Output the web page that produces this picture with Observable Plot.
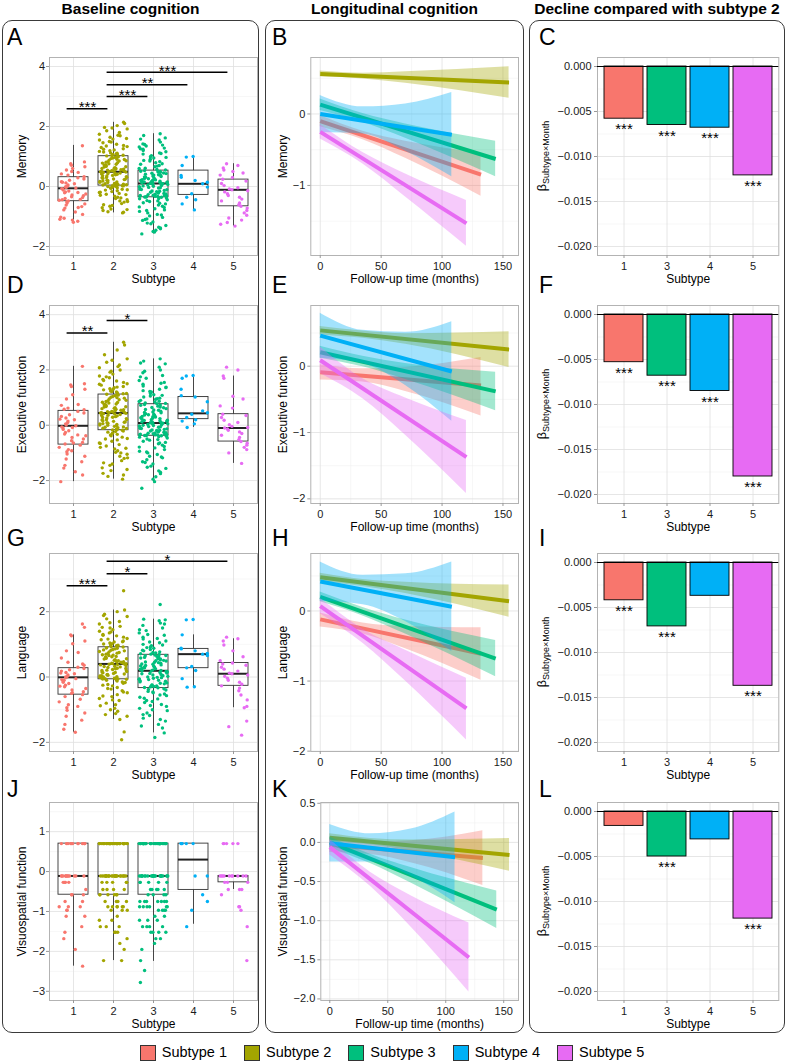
<!DOCTYPE html>
<html><head><meta charset="utf-8">
<script src="https://cdn.jsdelivr.net/npm/d3@7"></script>
<script src="https://cdn.jsdelivr.net/npm/@observablehq/plot@0.6"></script>
<style>
html,body{margin:0;padding:0;background:#fff}
#root{position:relative;width:789px;height:1064px;overflow:hidden;font-family:"Liberation Sans",Arial,Helvetica,sans-serif;color:#000}
.colbox{position:absolute;border:1.6px solid #3a3a3a;border-radius:10px;box-sizing:border-box}
.hdr{position:absolute;top:0;height:18px;line-height:18px;font-size:15.5px;font-weight:bold;text-align:center;white-space:nowrap}
.ltr{position:absolute;font-size:23px;line-height:23px}
.pnl{position:absolute}
.legend{position:absolute;left:0;width:784px;top:1044px;display:flex;justify-content:center;align-items:center;gap:17px;font-size:14.5px;line-height:17px}
.item{display:flex;align-items:center}
.sw{width:14px;height:14px;border:1px solid #333;margin-right:6px}
</style></head>
<body><div id="root"></div>
<script>
// ================= DATA =================
const subtypeNames = ["Subtype 1","Subtype 2","Subtype 3","Subtype 4","Subtype 5"];
const subtypeColors = ["#F8766D","#A3A500","#00BF7D","#00B0F6","#E76BF3"];
const domainLabels = ["Memory","Executive function","Language","Visuospatial function"];

// ---- Baseline cognition: box stats per subtype [lower whisker, Q1, median, Q3, upper whisker]
const memBox = [[-1.19,-0.49,-0.06,0.31,1.37],[-0.88,0.03,0.49,1.01,2.14],[-1.58,-0.36,0.10,0.53,1.76],[-0.80,-0.28,0.09,0.53,1.00],[-1.32,-0.66,-0.11,0.23,0.76]];
const exeBox = [[-2.04,-0.70,-0.02,0.52,2.13],[-1.95,-0.18,0.44,1.11,3.00],[-2.04,-0.38,0.08,0.76,2.40],[-0.08,0.22,0.43,1.02,1.80],[-1.38,-0.59,-0.10,0.40,1.78]];
const lanBox = [[-1.69,-0.54,-0.01,0.27,1.29],[-1.30,-0.07,0.40,0.91,2.05],[-1.71,-0.34,0.19,0.68,1.77],[-0.31,0.27,0.70,0.86,1.29],[-0.94,-0.27,0.10,0.43,1.17]];
const visBox = [[-2.37,-0.58,-0.11,0.70,0.70],[-2.23,-0.58,-0.11,0.70,0.70],[-2.25,-0.58,-0.11,0.70,0.70],[-1.32,-0.46,0.30,0.70,0.70],[-0.45,-0.27,-0.11,-0.11,-0.11]];

// ---- Baseline cognition: individual scores (jittered points)
const memPts1 = [1.36,0.82,0.76,0.71,0.66,0.60,0.55,0.47,0.42,0.38,0.33,0.29,0.25,0.21,0.16,0.12,0.09,0.05,0.02,-0.01,-0.03,-0.05,-0.07,-0.09,-0.12,-0.15,-0.18,-0.21,-0.25,-0.28,-0.31,-0.34,-0.37,-0.40,-0.43,-0.46,-0.48,-0.51,-0.55,-0.58,-0.62,-0.67,-0.72,-0.78,-0.85,-0.93,-1.02,-1.06,-1.09,-1.12,-1.16,-1.19,0.50,0.14,-0.20,-0.44,-0.70];
const memPts2 = [2.14,2.10,2.03,1.97,1.92,1.86,1.80,1.74,1.69,1.64,1.58,1.55,1.50,1.46,1.41,1.37,1.33,1.30,1.26,1.22,1.19,1.15,1.12,1.09,1.06,1.04,1.02,1.00,0.97,0.95,0.93,0.90,0.88,0.85,0.83,0.81,0.78,0.76,0.74,0.71,0.69,0.67,0.65,0.63,0.61,0.59,0.58,0.56,0.55,0.53,0.52,0.51,0.50,0.49,0.48,0.46,0.45,0.43,0.41,0.39,0.37,0.35,0.33,0.31,0.29,0.27,0.25,0.23,0.21,0.19,0.17,0.15,0.14,0.12,0.10,0.09,0.07,0.06,0.05,0.04,0.03,0.02,0.00,-0.02,-0.04,-0.06,-0.09,-0.11,-0.14,-0.17,-0.20,-0.23,-0.26,-0.29,-0.32,-0.36,-0.40,-0.44,-0.48,-0.52,-0.57,-0.61,-0.66,-0.71,-0.75,-0.80,-0.84,-0.88,
  1.95,1.71,1.48,1.35,1.24,1.17,1.11,1.07,1.03,1.60,0.99,0.91,0.86,0.79,0.72,0.66,0.60,0.57,0.54,0.50,0.47,0.42,0.36,0.30,0.24,0.18,0.13,0.08,0.05,0.03,0.01,-0.05,-0.12,-0.19,-0.27,-0.38,-0.50,-0.63,-0.77,-0.86];
const memPts3 = [1.76,1.70,1.62,1.55,1.48,1.42,1.38,1.35,1.32,1.28,1.24,1.20,1.16,1.12,1.08,1.03,0.99,0.95,0.91,0.87,0.83,0.79,0.74,0.70,0.66,0.61,0.57,0.53,0.51,0.49,0.47,0.45,0.43,0.41,0.39,0.37,0.35,0.33,0.31,0.29,0.27,0.25,0.23,0.22,0.20,0.19,0.17,0.16,0.15,0.14,0.13,0.12,0.11,0.10,0.09,0.07,0.05,0.03,0.01,-0.01,-0.03,-0.05,-0.07,-0.09,-0.11,-0.13,-0.15,-0.17,-0.19,-0.21,-0.23,-0.25,-0.27,-0.29,-0.30,-0.31,-0.32,-0.33,-0.34,-0.35,-0.36,-0.38,-0.41,-0.44,-0.47,-0.50,-0.54,-0.58,-0.62,-0.66,-0.70,-0.74,-0.78,-0.83,-0.88,-0.93,-0.98,-1.03,-1.08,-1.13,-1.18,-1.24,-1.30,-1.36,-1.41,-1.46,-1.52,-1.58,
  1.58,1.40,1.26,1.10,0.97,0.85,0.76,0.68,0.60,0.55,0.50,0.44,0.38,0.32,0.26,0.21,0.18,0.15,0.12,0.11,0.08,0.02,-0.04,-0.10,-0.16,-0.22,-0.26,-0.30,-0.33,-0.35,-0.40,-0.48,-0.56,-0.68,-0.80,-0.95,-1.10,-1.22,-1.38,-1.50];
const memPts4 = [1.00,0.98,0.70,0.37,0.31,0.20,0.14,0.09,-0.02,-0.24,-0.36,-0.44,-0.58,-0.78];
const memPts5 = [0.76,0.70,0.62,0.55,0.50,0.45,0.38,0.30,0.24,0.18,0.10,0.03,-0.04,-0.08,-0.11,-0.14,-0.18,-0.24,-0.30,-0.36,-0.42,-0.48,-0.55,-0.61,-0.66,-0.72,-0.80,-0.88,-0.96,-1.05,-1.12,-1.20,-1.26,-1.32];

const exePts1 = [2.13,1.50,1.46,1.40,1.30,1.10,0.95,0.75,0.72,0.62,0.56,0.50,0.44,0.38,0.32,0.26,0.20,0.15,0.10,0.05,0.01,-0.02,-0.06,-0.10,-0.15,-0.20,-0.26,-0.32,-0.38,-0.44,-0.50,-0.56,-0.62,-0.68,-0.72,-0.80,-0.88,-0.96,-1.04,-1.12,-1.22,-1.32,-1.45,-1.55,-1.68,-1.80,-2.04,0.58,0.22,-0.08,-0.35,-0.64,-0.92];
const exePts2 = [3.00,2.90,2.72,2.55,2.40,2.28,2.18,2.08,2.00,1.92,1.85,1.78,1.72,1.66,1.60,1.55,1.50,1.45,1.40,1.36,1.32,1.28,1.24,1.20,1.17,1.14,1.12,1.10,1.07,1.04,1.01,0.98,0.95,0.92,0.89,0.86,0.83,0.80,0.77,0.74,0.71,0.68,0.66,0.63,0.61,0.58,0.56,0.54,0.52,0.50,0.48,0.46,0.45,0.44,0.43,0.41,0.39,0.36,0.34,0.31,0.29,0.26,0.24,0.21,0.19,0.16,0.14,0.11,0.09,0.07,0.05,0.03,0.01,-0.02,-0.04,-0.07,-0.09,-0.12,-0.14,-0.16,-0.18,-0.21,-0.25,-0.29,-0.33,-0.38,-0.43,-0.48,-0.53,-0.58,-0.64,-0.70,-0.75,-0.80,-0.86,-0.92,-0.98,-1.05,-1.12,-1.20,-1.28,-1.36,-1.45,-1.54,-1.64,-1.74,-1.85,-1.95,
  2.35,2.12,1.95,1.75,1.62,1.48,1.38,1.30,1.22,1.15,1.09,1.00,0.90,0.82,0.75,0.67,0.60,0.53,0.49,0.45,0.42,0.35,0.28,0.20,0.12,0.06,0.00,-0.06,-0.11,-0.17,-0.23,-0.35,-0.50,-0.66,-0.83,-1.00,-1.18,-1.40,-1.60,-1.80];
const exePts3 = [2.40,2.32,2.22,2.10,2.00,1.90,1.80,1.70,1.62,1.55,1.48,1.42,1.36,1.30,1.25,1.20,1.15,1.10,1.06,1.02,0.98,0.94,0.90,0.87,0.84,0.81,0.78,0.75,0.72,0.69,0.66,0.63,0.60,0.57,0.54,0.51,0.48,0.45,0.42,0.40,0.37,0.35,0.32,0.30,0.27,0.25,0.22,0.20,0.18,0.16,0.14,0.12,0.10,0.08,0.07,0.05,0.03,0.01,-0.01,-0.03,-0.05,-0.07,-0.09,-0.11,-0.13,-0.15,-0.17,-0.19,-0.21,-0.23,-0.25,-0.27,-0.29,-0.31,-0.32,-0.33,-0.34,-0.35,-0.36,-0.37,-0.38,-0.40,-0.43,-0.46,-0.50,-0.54,-0.58,-0.62,-0.67,-0.72,-0.77,-0.82,-0.88,-0.94,-1.00,-1.06,-1.12,-1.18,-1.25,-1.32,-1.40,-1.48,-1.56,-1.65,-1.75,-1.86,-2.04,-2.28,
  2.25,1.95,1.75,1.52,1.38,1.22,1.08,0.96,0.86,0.79,0.73,0.64,0.55,0.46,0.38,0.31,0.24,0.17,0.11,0.09,0.06,0.00,-0.06,-0.12,-0.18,-0.24,-0.28,-0.32,-0.35,-0.37,-0.42,-0.52,-0.64,-0.79,-0.97,-1.15,-1.35,-1.52,-1.70,-1.95];
const exePts4 = [1.80,1.78,1.70,1.30,1.07,1.02,0.85,0.52,0.45,0.40,0.28,0.20,0.15,0.05,-0.08];
const exePts5 = [2.10,2.00,1.78,1.70,1.05,0.95,0.70,0.62,0.40,0.35,0.28,0.18,0.10,0.02,-0.04,-0.08,-0.10,-0.13,-0.18,-0.24,-0.30,-0.36,-0.44,-0.52,-0.59,-0.65,-0.72,-0.80,-0.88,-1.00,-1.38];

const lanPts1 = [1.62,1.52,1.29,1.26,1.10,1.02,0.80,0.75,0.58,0.45,0.36,0.30,0.26,0.22,0.18,0.14,0.10,0.06,0.03,0.00,-0.02,-0.05,-0.08,-0.12,-0.16,-0.20,-0.25,-0.30,-0.35,-0.40,-0.45,-0.50,-0.54,-0.60,-0.68,-0.76,-0.85,-0.94,-1.02,-1.10,-1.20,-1.32,-1.45,-1.60,-1.69,0.40,0.12,-0.10,-0.28,-0.48,-0.90];
const lanPts2 = [2.64,2.05,2.00,1.92,1.85,1.78,1.70,1.62,1.55,1.50,1.45,1.40,1.35,1.30,1.26,1.22,1.18,1.14,1.10,1.07,1.04,1.01,0.98,0.96,0.94,0.92,0.90,0.88,0.86,0.84,0.82,0.80,0.77,0.75,0.72,0.70,0.68,0.66,0.63,0.61,0.59,0.57,0.55,0.53,0.51,0.49,0.47,0.45,0.43,0.42,0.41,0.40,0.39,0.37,0.35,0.33,0.31,0.29,0.27,0.25,0.23,0.21,0.19,0.17,0.15,0.13,0.11,0.09,0.07,0.05,0.03,0.01,-0.01,-0.03,-0.04,-0.05,-0.06,-0.07,-0.09,-0.12,-0.15,-0.19,-0.23,-0.27,-0.32,-0.37,-0.42,-0.48,-0.54,-0.60,-0.66,-0.72,-0.80,-0.88,-0.96,-1.05,-1.12,-1.20,-1.30,-1.68,-1.92,
  1.88,1.66,1.52,1.38,1.28,1.16,1.08,1.02,0.97,0.93,0.89,0.83,0.78,0.73,0.67,0.62,0.56,0.50,0.46,0.41,0.38,0.32,0.26,0.20,0.14,0.08,0.04,0.00,-0.03,-0.06,-0.10,-0.17,-0.25,-0.35,-0.46,-0.58,-0.70,-0.85,-1.00,-1.15];
const lanPts3 = [2.22,1.77,1.75,1.72,1.65,1.58,1.50,1.42,1.35,1.28,1.22,1.16,1.10,1.05,1.00,0.96,0.92,0.88,0.84,0.80,0.77,0.74,0.71,0.69,0.67,0.65,0.63,0.60,0.58,0.56,0.53,0.51,0.49,0.46,0.44,0.42,0.39,0.37,0.35,0.33,0.31,0.29,0.27,0.25,0.23,0.21,0.20,0.18,0.16,0.14,0.12,0.10,0.08,0.06,0.04,0.02,0.00,-0.02,-0.04,-0.06,-0.08,-0.10,-0.12,-0.15,-0.18,-0.21,-0.24,-0.27,-0.30,-0.33,-0.36,-0.40,-0.44,-0.48,-0.52,-0.57,-0.62,-0.67,-0.72,-0.78,-0.84,-0.90,-0.96,-1.03,-1.10,-1.18,-1.26,-1.35,-1.45,-1.56,-1.71,-1.85,
  1.62,1.45,1.30,1.18,1.07,0.98,0.90,0.82,0.75,0.70,0.66,0.61,0.55,0.50,0.45,0.40,0.34,0.28,0.24,0.20,0.17,0.11,0.05,-0.01,-0.07,-0.13,-0.19,-0.25,-0.29,-0.32,-0.38,-0.46,-0.55,-0.65,-0.75,-0.87,-1.00,-1.15,-1.30,-1.50];
const lanPts4 = [1.76,1.75,1.29,0.88,0.86,0.80,0.72,0.70,0.66,0.32,0.28,0.20,-0.05,-0.30,-0.31];
const lanPts5 = [1.22,1.17,1.10,0.98,0.80,0.62,0.50,0.43,0.40,0.36,0.30,0.24,0.18,0.12,0.10,0.06,0.02,-0.04,-0.10,-0.16,-0.22,-0.27,-0.34,-0.42,-0.55,-0.70,-0.90,-0.94,-1.35,-1.52,-1.78];

// Visuospatial scores take discrete values: score levels and number of subjects at each level
const visLevels = [0.70,-0.11,-0.27,-0.45,-0.58,-0.75,-0.88,-0.97,-1.12,-1.22,-1.38,-1.52,-1.68,-1.80,-1.95,-2.23,-2.37,-2.48,-2.78];
const visCounts1 = [12,12,4,1,3,2,3,2,2,0,1,1,1,0,1,0,1,0,0];
const visCounts2 = [35,25,5,4,6,4,6,3,1,2,3,3,1,1,1,2,0,0,0];
const visCounts3 = [35,25,5,5,4,7,6,4,2,3,4,4,2,1,1,1,0,1,1];
const visCounts4 = [5,2,0,0,1,1,0,1,0,0,1,0,0,0,0,0,0,0,0];
const visCounts5 = [5,10,3,3,1,0,2,1,0,0,1,0,0,0,0,1,0,0,0];

// Pairwise significance: [subtype a, subtype b, bracket height, label]
const memSig = [[1,2,2.59,"***"],[2,3,3.00,"***"],[2,4,3.39,"**"],[2,5,3.81,"***"]];
const exeSig = [[1,2,3.34,"**"],[2,3,3.79,"*"]];
const lanSig = [[1,2,2.79,"***"],[2,3,3.16,"*"],[2,5,3.54,"*"]];
const visSig = [];

// ---- Longitudinal cognition: linear fits (value at month 0, value at last month)
const followEnd = [132,155,144,108,120];
const memFit = [[-0.10,-0.85],[0.56,0.44],[0.13,-0.63],[0.00,-0.29],[-0.25,-1.53]];
const exeFit = [[-0.09,-0.29],[0.54,0.25],[0.21,-0.38],[0.46,-0.08],[0.09,-1.37]];
const lanFit = [[-0.12,-0.61],[0.48,0.14],[0.20,-0.68],[0.42,0.06],[0.07,-1.39]];
const visFit = [[-0.03,-0.20],[0.06,-0.16],[0.00,-0.86],[-0.01,-0.19],[-0.06,-1.47]];
// 95% CI bands read at months 0, 35, 70 and the last month
const ciMonths = [0,35,70];
const memLo = [[-0.18,-0.36,-0.62,-1.15],[0.52,0.49,0.43,0.22],[0.05,-0.115,-0.34,-0.88],[-0.26,-0.28,-0.52,-0.88],[-0.35,-0.70,-1.16,-1.85]];
const memHi = [[-0.02,-0.24,-0.38,-0.55],[0.60,0.57,0.59,0.66],[0.21,0.005,-0.14,-0.38],[0.26,0.10,0.14,0.30],[-0.15,-0.54,-0.84,-1.21]];
const exeLo = [[-0.21,-0.24,-0.38,-0.75],[0.47,0.42,0.33,-0.02],[0.12,-0.01,-0.20,-0.67],[0.12,0.04,-0.29,-0.83],[-0.11,-0.49,-1.04,-1.92]];
const exeHi = [[0.02,-0.04,-0.02,0.13],[0.60,0.53,0.49,0.52],[0.30,0.15,0.04,-0.09],[0.80,0.54,0.51,0.67],[0.29,-0.19,-0.48,-0.82]];
const lanLo = [[-0.23,-0.33,-0.54,-0.99],[0.42,0.35,0.25,-0.09],[0.13,-0.07,-0.33,-0.94],[0.14,0.09,-0.15,-0.58],[-0.04,-0.46,-1.00,-1.84]];
const lanHi = [[-0.03,-0.17,-0.22,-0.24],[0.54,0.45,0.41,0.37],[0.27,0.05,-0.13,-0.42],[0.70,0.51,0.53,0.70],[0.18,-0.26,-0.56,-0.96]];
const visLo = [[-0.13,-0.155,-0.26,-0.55],[0.01,-0.03,-0.11,-0.37],[-0.07,-0.27,-0.52,-1.10],[-0.25,-0.25,-0.43,-0.77],[-0.16,-0.56,-1.08,-1.91]];
const visHi = [[0.07,0.005,0.02,0.15],[0.11,0.05,0.03,0.05],[0.07,-0.15,-0.32,-0.62],[0.23,0.11,0.17,0.39],[0.04,-0.38,-0.68,-1.03]];

// ---- Decline compared with subtype 2: beta (Subtype x Month)
const barSubtypes = ["1","3","4","5"];
const memBeta = [-0.0058,-0.0065,-0.0068,-0.0121];
const exeBeta = [-0.0053,-0.0068,-0.0085,-0.0180];
const lanBeta = [-0.0042,-0.0071,-0.0037,-0.0137];
const visBeta = [-0.0016,-0.0050,-0.0031,-0.0119];
const memBetaSig = ["***","***","***","***"];
const exeBetaSig = ["***","***","***","***"];
const lanBetaSig = ["***","***","","***"];
const visBetaSig = ["","***","","***"];

// ================= LAYOUT =================
const root = document.getElementById("root");
const FONT = '"Liberation Sans", Arial, Helvetica, sans-serif';
const plotTops = [57, 305, 553.3, 801.7];
const letterBase = [45, 293, 546, 797];
const letterX = [7, 272, 539];
const letters = [["A","B","C"],["D","E","F"],["G","H","I"],["J","K","L"]];
const cols = [{x:2,w:257,title:"Baseline cognition"},{x:265,w:259,title:"Longitudinal cognition"},{x:529,w:256,title:"Decline compared with subtype 2"}];
const GRID_MAJ = {stroke:"#e0e0e0", strokeOpacity:1, strokeWidth:0.8};
const GRID_MIN = {stroke:"#efefef", strokeOpacity:1, strokeWidth:0.5};
const TXT = "#1a1a1a";
const TITLE = {fontSize:12, fill:"#000", textAnchor:"middle", lineAnchor:"middle"};

cols.forEach(c => {
  const b = document.createElement("div"); b.className = "colbox";
  Object.assign(b.style, {left:c.x+"px", top:"20px", width:c.w+"px", height:"1013px"});
  root.appendChild(b);
  const h = document.createElement("div"); h.className = "hdr";
  Object.assign(h.style, {left:c.x+"px", width:c.w+"px"});
  h.textContent = c.title; root.appendChild(h);
});
letters.forEach((row, r) => row.forEach((L, c) => {
  const d = document.createElement("div"); d.className = "ltr";
  Object.assign(d.style, {left:letterX[c]+"px", top:(letterBase[r]-19)+"px"});
  d.textContent = L; root.appendChild(d);
}));

function place(node, left, top) {
  const d = document.createElement("div"); d.className = "pnl";
  Object.assign(d.style, {left:left+"px", top:top+"px"});
  d.appendChild(node); root.appendChild(d);
}
const jit = (k, g, w) => { const s = Math.sin(k * 12.9898 + g * 78.233 + 1.7) * 43758.5453; return ((s - Math.floor(s)) - 0.5) * 2 * w; };
const style = () => ({fontFamily: FONT, fontSize: "11px", background: "transparent", overflow: "visible", color: TXT});

// ---------- Column 1: baseline boxplots ----------
function baselinePanel(row, label, boxStats, ptsList, sig, ylim, yMajor, yMinor) {
  const boxes = boxStats.map((b, i) => ({x:i+1, lo:b[0], q1:b[1], med:b[2], q3:b[3], hi:b[4]}));
  const marks = [
    Plot.frame({fill:"#fff", stroke:"none"}),
    Plot.gridY(yMinor, GRID_MIN),
    Plot.gridY(yMajor, GRID_MAJ),
    Plot.gridX([1,2,3,4,5], GRID_MAJ),
    Plot.frame({stroke:"#b3b3b3"}),
    Plot.ruleX(boxes, {x:"x", y1:"q3", y2:"hi", stroke:"#333", strokeWidth:0.9}),
    Plot.ruleX(boxes, {x:"x", y1:"lo", y2:"q1", stroke:"#333", strokeWidth:0.9}),
    Plot.rect(boxes, {x1:d=>d.x-0.375, x2:d=>d.x+0.375, y1:"q1", y2:"q3", fill:"none", stroke:"#333", strokeWidth:0.9}),
    Plot.ruleY(boxes, {y:"med", x1:d=>d.x-0.375, x2:d=>d.x+0.375, stroke:"#222", strokeWidth:2})
  ];
  ptsList.forEach((arr, g) => {
    marks.push(Plot.dot(arr.map((v, k) => ({x: g + 1 + jit(k, g, 0.36), y: v})), {x:"x", y:"y", r:1.7, fill:subtypeColors[g], stroke:"none"}));
  });
  marks.push(
    Plot.ruleY(sig, {y:d=>d[2], x1:d=>d[0]-0.16, x2:d=>d[1]-0.14, stroke:"#000", strokeWidth:1.5}),
    Plot.text(sig, {x:d=>(d[0]+d[1]-0.3)/2, y:d=>d[2], text:d=>d[3], dy:-1.2, fontSize:15, fill:"#000"}),
    Plot.axisY(yMajor, {tickSize:3, tickPadding:1.5, label:null, stroke:"#999", fill:TXT, fontSize:11, tickFormat:d3.format(".0f")}),
    Plot.axisX([1,2,3,4,5], {tickSize:3, tickPadding:3.5, label:null, stroke:"#999", fill:TXT, fontSize:11}),
    Plot.text([label], {...TITLE, frameAnchor:"left", dx:-27.5, rotate:-90, text:d=>d}),
    Plot.text(["Subtype"], {...TITLE, frameAnchor:"bottom", dy:23.5, text:d=>d})
  );
  const svg = Plot.plot({
    width:254, height:246, marginLeft:45, marginRight:1, marginTop:12, marginBottom:36,
    style: style(),
    x: {domain:[0.4, 5.6]}, y: {domain: ylim},
    marks
  });
  place(svg, 4, plotTops[row] - 12);
}

const expand = (counts) => counts.flatMap((n, i) => Array(n).fill(visLevels[i]));

baselinePanel(0, domainLabels[0], memBox, [memPts1,memPts2,memPts3,memPts4,memPts5], memSig, [-2.3,4.3], [-2,0,2,4], [-1,1,3]);
baselinePanel(1, domainLabels[1], exeBox, [exePts1,exePts2,exePts3,exePts4,exePts5], exeSig, [-2.83,4.33], [-2,0,2,4], [-1,1,3]);
baselinePanel(2, domainLabels[2], lanBox, [lanPts1,lanPts2,lanPts3,lanPts4,lanPts5], lanSig, [-2.28,3.78], [-2,0,2], [-1,1,3]);
baselinePanel(3, domainLabels[3], visBox, [visCounts1,visCounts2,visCounts3,visCounts4,visCounts5].map(expand), visSig, [-3.23,1.73], [-3,-2,-1,0,1], [-2.5,-1.5,-0.5,0.5,1.5]);

// ---------- Column 2: longitudinal fits ----------
function longPanel(row, label, fit, lo, hi, ylim, yMajor, yMinor, yFmt, mLeft) {
  const marks = [
    Plot.frame({fill:"#fff", stroke:"none"}),
    Plot.gridY(yMinor, GRID_MIN),
    Plot.gridX([25,75,125], GRID_MIN),
    Plot.gridY(yMajor, GRID_MAJ),
    Plot.gridX([0,50,100,150], GRID_MAJ),
    Plot.frame({stroke:"#b3b3b3"})
  ];
  fit.forEach((f, g) => {
    const months = [...ciMonths, followEnd[g]];
    const band = months.map((m, i) => ({x:m, lo:lo[g][i], hi:hi[g][i]}));
    marks.push(Plot.areaY(band, {x:"x", y1:"lo", y2:"hi", fill:subtypeColors[g], fillOpacity:0.36, curve:"monotone-x"}));
    marks.push(Plot.line([{x:0, y:f[0]}, {x:followEnd[g], y:f[1]}], {x:"x", y:"y", stroke:subtypeColors[g], strokeWidth:4, strokeLinecap:"butt"}));
  });
  marks.push(
    Plot.axisY(yMajor, {tickSize:3, tickPadding:2.5, label:null, stroke:"#999", fill:TXT, fontSize:11, tickFormat:yFmt}),
    Plot.axisX([0,50,100,150], {tickSize:3, tickPadding:3.5, label:null, stroke:"#999", fill:TXT, fontSize:11}),
    Plot.text([label], {...TITLE, frameAnchor:"left", dx:-(mLeft - 16), rotate:-90, text:d=>d}),
    Plot.text(["Follow-up time (months)"], {...TITLE, frameAnchor:"bottom", dy:23.5, text:d=>d})
  );
  const svg = Plot.plot({
    width:252, height:246, marginLeft:mLeft, marginRight:1, marginTop:12, marginBottom:36,
    style: style(),
    x: {domain:[-7.75, 162.75]}, y: {domain: ylim},
    marks
  });
  place(svg, 267, plotTops[row] - 12);
}
longPanel(0, domainLabels[0], memFit, memLo, memHi, [-1.98,0.79], [-1,0], [-1.5,-0.5,0.5], d3.format(".0f"), 43.3);
longPanel(1, domainLabels[1], exeFit, exeLo, exeHi, [-2.07,0.915], [-2,-1,0], [-1.5,-0.5,0.5], d3.format(".0f"), 43.3);
longPanel(2, domainLabels[2], lanFit, lanLo, lanHi, [-2.005,0.82], [-2,-1,0], [-1.5,-0.5,0.5], d3.format(".0f"), 43.3);
longPanel(3, domainLabels[3], visFit, visLo, visHi, [-2.02,0.51], [-2,-1.5,-1,-0.5,0,0.5], [-1.75,-1.25,-0.75,-0.25,0.25], d3.format(".1f"), 53.3);

// ---------- Column 3: decline vs subtype 2 ----------
function betaPanel(row, beta, sigs) {
  const bars = barSubtypes.map((s, i) => ({s, v:beta[i], lab:sigs[i], c:subtypeColors[+s - 1]}));
  const yMajor = [0,-0.005,-0.010,-0.015,-0.020];
  const marks = [
    Plot.frame({fill:"#fff", stroke:"none"}),
    Plot.gridY([-0.0025,-0.0075,-0.0125,-0.0175], GRID_MIN),
    Plot.gridY(yMajor, GRID_MAJ),
    Plot.gridX(barSubtypes, GRID_MAJ),
    Plot.frame({stroke:"#b3b3b3"})
  ];
  bars.forEach(b => marks.push(Plot.barY([b], {x:"s", y:"v", fill:b.c, stroke:"#000", strokeWidth:0.9})));
  marks.push(
    Plot.ruleY([0], {stroke:"#000", strokeWidth:1}),
    Plot.text(bars.filter(b => b.lab), {x:"s", y:"v", text:"lab", dy:10.7, fontSize:15, fill:"#000"}),
    Plot.axisY(yMajor, {tickSize:3, tickPadding:3, label:null, stroke:"#999", fill:TXT, fontSize:11, tickFormat:d3.format(".3f")}),
    Plot.axisX(barSubtypes, {tickSize:3, tickPadding:3.5, label:null, stroke:"#999", fill:TXT, fontSize:11}),
    Plot.text(["Subtype"], {...TITLE, frameAnchor:"bottom", dy:23.5, text:d=>d})
  );
  const svg = Plot.plot({
    width:248, height:246, marginLeft:66, marginRight:0.7, marginTop:12, marginBottom:36,
    style: style(),
    x: {type:"band", domain:barSubtypes, paddingInner:0.1, paddingOuter:0.15},
    y: {domain:[-0.021, 0.001]},
    marks
  });
  // y-axis title with subscript: β Subtype×Month
  const t = d3.select(svg).append("text")
    .attr("transform", `translate(14.5,${12 + 99}) rotate(-90)`)
    .attr("text-anchor", "middle").attr("font-family", FONT).attr("font-size", 12.5).attr("fill", "#000");
  t.append("tspan").text("β");
  t.append("tspan").attr("font-size", 9).attr("dy", 3).text("Subtype×Month");
  place(svg, 531, plotTops[row] - 12);
}
betaPanel(0, memBeta, memBetaSig);
betaPanel(1, exeBeta, exeBetaSig);
betaPanel(2, lanBeta, lanBetaSig);
betaPanel(3, visBeta, visBetaSig);

// ---------- Legend ----------
const leg = document.createElement("div"); leg.className = "legend";
subtypeNames.forEach((n, i) => {
  const it = document.createElement("div"); it.className = "item";
  const sw = document.createElement("div"); sw.className = "sw"; sw.style.background = subtypeColors[i];
  const tx = document.createElement("span"); tx.textContent = n;
  it.appendChild(sw); it.appendChild(tx); leg.appendChild(it);
});
root.appendChild(leg);
</script></body></html>
